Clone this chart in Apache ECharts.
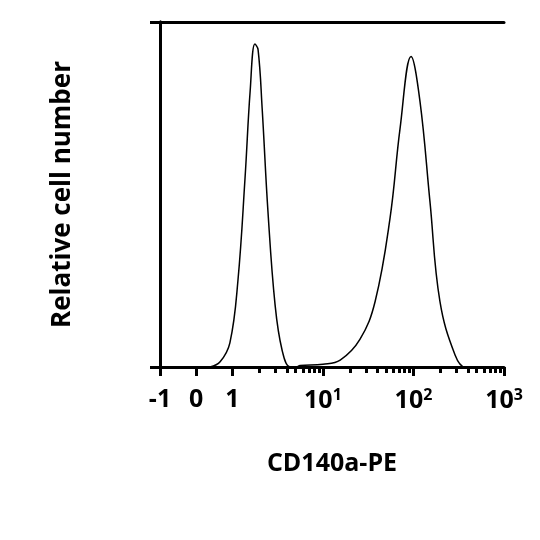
<!DOCTYPE html>
<html><head><meta charset="utf-8">
<script src="https://cdn.jsdelivr.net/npm/echarts@6/dist/echarts.min.js"></script>
<style>html,body{margin:0;padding:0;background:#fff}#c{width:540px;height:540px}</style>
</head><body><div id="c"></div>
<script>
// fluorescence values and relative counts (% of max)
const xValues = [0.38,0.66,0.93,1.15,1.38,1.57,1.77,1.92,2.13,2.47,2.96,3.53,4.33,5.0,5.6,10,15.5,25.6,37.7,55,71,94,118,152,196,288,372,450];
const counts  = [0,1.5,7,25,55,80,93.6,92,75,45,18,5,0,0,0.4,0.8,2,8,19,43,69,90,77,48,19,3.5,0,0];
const majorTicks = [-1,0,1,10,100,1000];
const tickLabels = ['-1','0','1','10{s|1}','10{s|2}','10{s|3}'];
const minorTicks = [2,3,4,5,6,7,8,9,20,30,40,50,60,70,80,90,200,300,400,500,600,700,800,900];

function tr(v){ return v<=1 ? v+1 : 2+2.5*Math.log10(v); }
const data = xValues.map((v,i)=>[tr(v),counts[i]]);
const majU = majorTicks.map(tr), minU = minorTicks.map(tr);
const lbl = {}; majU.forEach((u,i)=>lbl[u.toFixed(4)]=tickLabels[i]);
const font = '"Open Sans", "DejaVu Sans", sans-serif';
const base = {type:'value',min:0,max:9.5,splitLine:{show:false},gridIndex:0};
const chart = echarts.init(document.getElementById('c'));
chart.setOption({
  animation:false,
  grid:{left:160,right:36,top:22,bottom:173},
  xAxis:[
    Object.assign({},base,{position:'bottom',
      axisLine:{lineStyle:{color:'#000',width:3}},
      axisTick:{show:true,customValues:majU,length:9,lineStyle:{color:'#000',width:3}},
      axisLabel:{customValues:majU,margin:20,color:'#000',fontFamily:font,fontWeight:'bold',fontSize:25,
        formatter:v=>lbl[v.toFixed(4)]||'',
        rich:{s:{fontSize:16,fontWeight:'bold',fontFamily:font,verticalAlign:'top',padding:[0,0,12,0],color:'#000'}}},
      name:'CD140a-PE',nameLocation:'middle',nameGap:84,
      nameTextStyle:{color:'#000',fontFamily:font,fontWeight:'bold',fontSize:25}}),
    Object.assign({},base,{position:'bottom',
      axisLine:{show:false},
      axisTick:{show:true,customValues:minU,length:6,lineStyle:{color:'#000',width:3}},
      axisLabel:{show:false}}),
    Object.assign({},base,{position:'top',
      axisLine:{lineStyle:{color:'#000',width:3}},axisTick:{show:false},axisLabel:{show:false}})
  ],
  yAxis:[
    {type:'value',min:0,max:100,position:'left',splitLine:{show:false},
     axisLine:{show:true,lineStyle:{color:'#000',width:3}},
     axisTick:{show:true,customValues:[0,100],length:10,lineStyle:{color:'#000',width:3}},
     axisLabel:{show:false},
     name:'Relative cell number',nameLocation:'middle',nameGap:84,
     nameTextStyle:{color:'#000',fontFamily:font,fontWeight:'bold',fontSize:26}},
    {type:'value',min:0,max:100,position:'right',splitLine:{show:false},
     axisLine:{show:true,lineStyle:{color:'#000',width:3}},axisTick:{show:false},axisLabel:{show:false}}
  ],
  series:[{type:'line',data:data,smooth:0.4,symbol:'none',lineStyle:{color:'#000',width:1.5}}]
});
</script></body></html>
